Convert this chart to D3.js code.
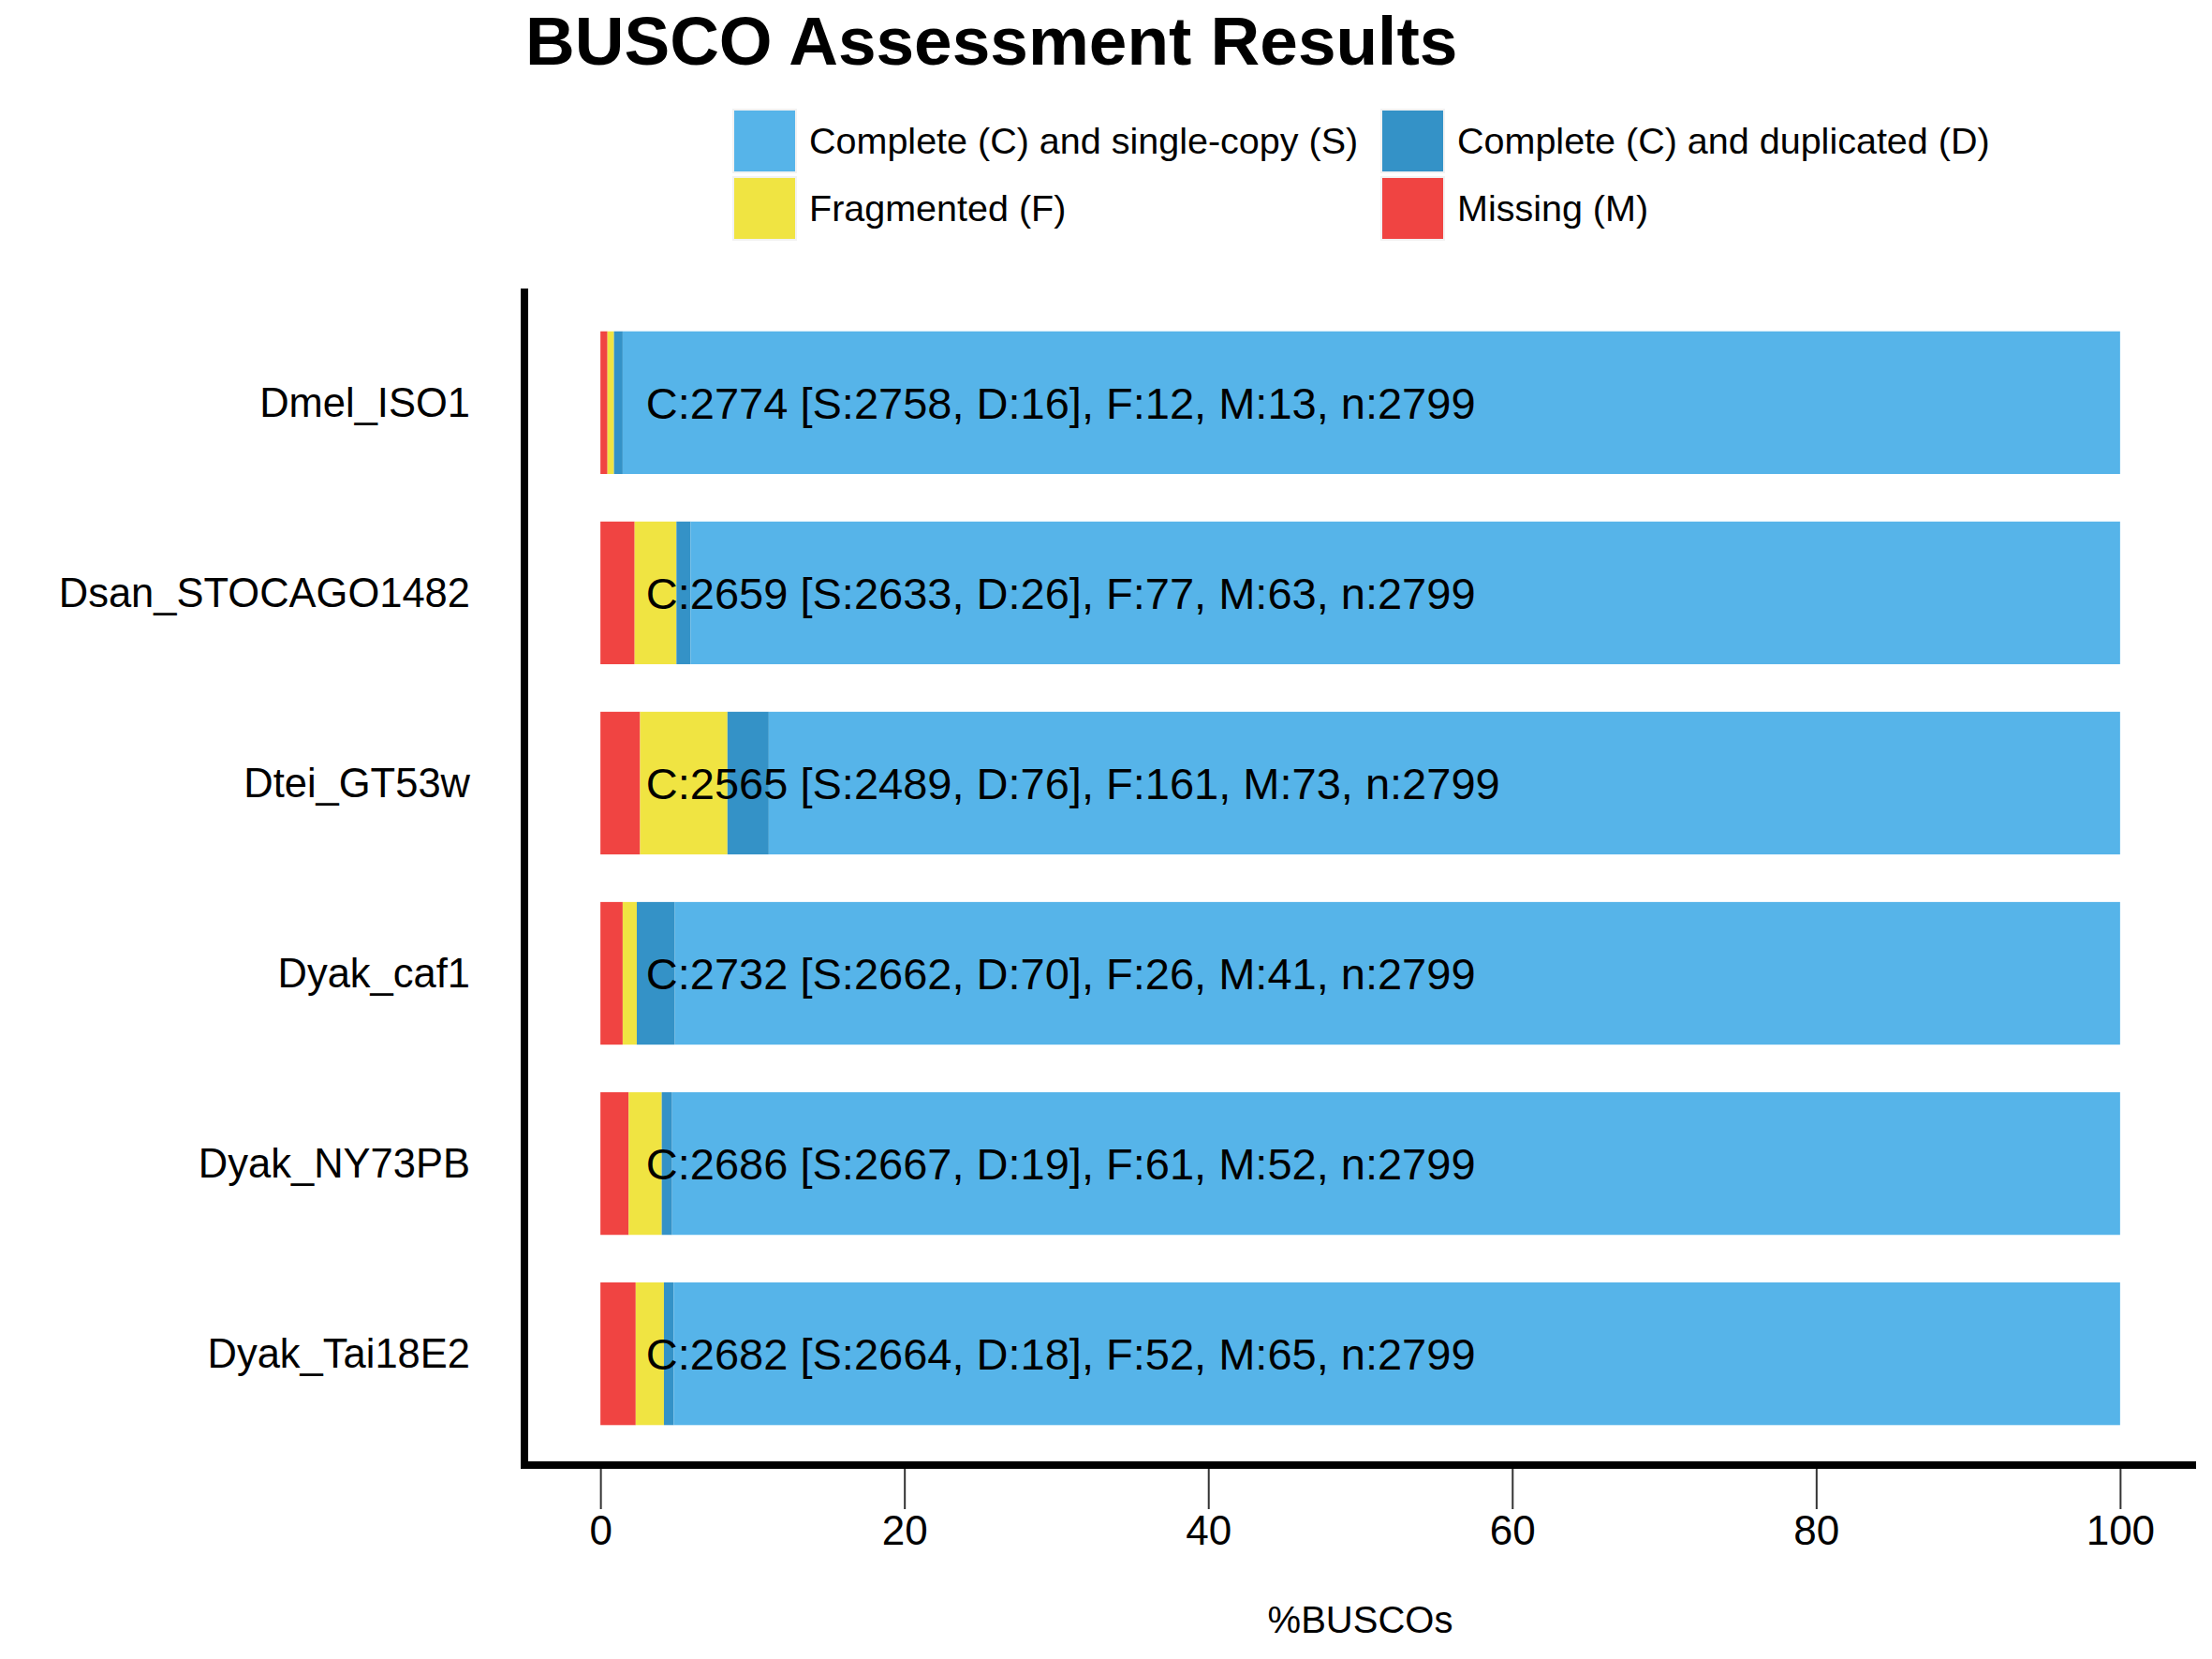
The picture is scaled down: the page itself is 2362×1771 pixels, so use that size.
<!DOCTYPE html>
<html>
<head>
<meta charset="utf-8">
<script src="https://cdn.jsdelivr.net/npm/d3@7"></script>
<style>
  body { margin: 0; background: #fff; }
  text { font-family: "Liberation Sans", Arial, Helvetica, sans-serif; }
</style>
</head>
<body>
<div id="wrapper"></div>
<script>

// data
const species = ["Dmel_ISO1", "Dsan_STOCAGO1482", "Dtei_GT53w", "Dyak_caf1", "Dyak_NY73PB", "Dyak_Tai18E2"]
const single = [2758, 2633, 2489, 2662, 2667, 2664]
const duplicated = [16, 26, 76, 70, 19, 18]
const fragmented = [12, 77, 161, 26, 61, 52]
const missing = [13, 63, 73, 41, 52, 65]
const totalN = 2799
const xTicks = [0, 20, 40, 60, 80, 100]

const categories = [
  { key: "S", label: "Complete (C) and single-copy (S)", color: "#56B4E9" },
  { key: "D", label: "Complete (C) and duplicated (D)", color: "#3492C7" },
  { key: "F", label: "Fragmented (F)", color: "#F0E442" },
  { key: "M", label: "Missing (M)", color: "#F04442" },
]
const stackOrder = ["M", "F", "D", "S"]

const dataset = species.map((name, i) => ({
  name: name,
  S: single[i] / totalN * 100,
  D: duplicated[i] / totalN * 100,
  F: fragmented[i] / totalN * 100,
  M: missing[i] / totalN * 100,
  label: `C:${single[i] + duplicated[i]} [S:${single[i]}, D:${duplicated[i]}], F:${fragmented[i]}, M:${missing[i]}, n:${totalN}`,
}))

// dimensions
const dimensions = {
  width: 2362,
  height: 1771,
  panel: { left: 560, right: 2345, top: 308, bottom: 1567 },
}

const svg = d3.select("#wrapper")
  .append("svg")
    .attr("width", dimensions.width)
    .attr("height", dimensions.height)

// scales
const xScale = d3.scaleLinear()
  .domain([-5, 105])
  .range([dimensions.panel.left, dimensions.panel.right])

const yScale = d3.scaleBand()
  .domain(species)
  .range([dimensions.panel.top, dimensions.panel.bottom])
  .paddingInner(0.25)
  .paddingOuter(0.225)

const colorScale = d3.scaleOrdinal()
  .domain(categories.map(d => d.key))
  .range(categories.map(d => d.color))

const series = d3.stack().keys(stackOrder)(dataset)

// bars
svg.append("g")
  .selectAll("g")
  .data(series)
  .join("g")
    .attr("fill", d => colorScale(d.key))
  .selectAll("rect")
  .data(d => d)
  .join("rect")
    .attr("x", d => xScale(d[0]))
    .attr("y", d => yScale(d.data.name))
    .attr("width", d => xScale(d[1]) - xScale(d[0]))
    .attr("height", yScale.bandwidth())

// labels inside bars
svg.append("g")
  .selectAll("text")
  .data(dataset)
  .join("text")
    .attr("x", xScale(3))
    .attr("y", d => yScale(d.name) + yScale.bandwidth() / 2)
    .attr("dy", "0.36em")
    .style("font-size", "47px")
    .attr("fill", "#000")
    .text(d => d.label)

// y labels
svg.append("g")
  .selectAll("text")
  .data(species)
  .join("text")
    .attr("x", 502)
    .attr("y", d => yScale(d) + yScale.bandwidth() / 2)
    .attr("dy", "0.35em")
    .attr("text-anchor", "end")
    .style("font-size", "43.5px")
    .text(d => d)

// x axis
const xAxisGenerator = d3.axisBottom(xScale)
  .tickValues(xTicks)
  .tickSize(47)
  .tickPadding(7)

const xAxis = svg.append("g")
    .attr("transform", `translate(0, 1564)`)
    .call(xAxisGenerator)

xAxis.select(".domain").remove()
xAxis.selectAll(".tick line")
    .attr("stroke", "#333")
    .attr("stroke-width", 2)
xAxis.selectAll(".tick text")
    .style("font-size", "44px")
    .style("font-family", "'Liberation Sans', Arial, Helvetica, sans-serif")
    .attr("fill", "#000")

// axis lines
svg.append("line")
    .attr("x1", 560).attr("x2", 560)
    .attr("y1", dimensions.panel.top).attr("y2", 1568)
    .attr("stroke", "#000")
    .attr("stroke-width", 8)
svg.append("line")
    .attr("x1", 556).attr("x2", dimensions.panel.right)
    .attr("y1", 1564).attr("y2", 1564)
    .attr("stroke", "#000")
    .attr("stroke-width", 8)

// axis title
svg.append("text")
    .attr("x", xScale(50))
    .attr("y", 1743)
    .attr("text-anchor", "middle")
    .style("font-size", "40px")
    .text("%BUSCOs")

// title
svg.append("text")
    .attr("x", 561)
    .attr("y", 69)
    .style("font-size", "73px")
    .style("font-weight", "bold")
    .text("BUSCO Assessment Results")

// legend
const legendX = [783, 1475]
const legendY = [117, 189]
const legendItems = svg.append("g")
  .selectAll("g")
  .data(categories)
  .join("g")
    .attr("transform", (d, i) => `translate(${legendX[i % 2]}, ${legendY[Math.floor(i / 2)]})`)

legendItems.append("rect")
    .attr("width", 67)
    .attr("height", 67)
    .attr("fill", d => d.color)
    .attr("stroke", "#f2f2f2")
    .attr("stroke-width", 2)

legendItems.append("text")
    .attr("x", 81)
    .attr("y", 33.5)
    .attr("dy", "0.35em")
    .style("font-size", "39.5px")
    .text(d => d.label)

</script>
</body>
</html>
